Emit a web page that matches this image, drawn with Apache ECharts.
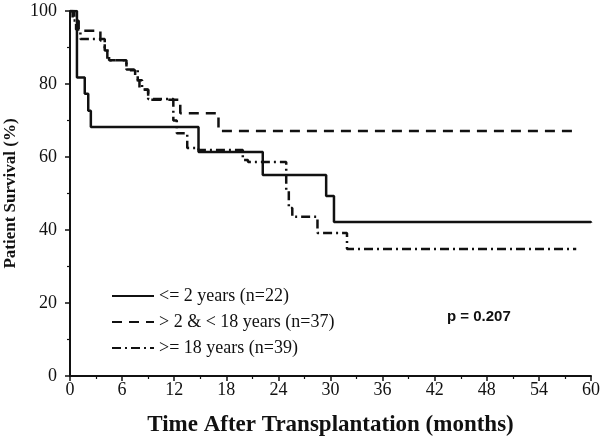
<!DOCTYPE html>
<html>
<head>
<meta charset="utf-8">
<script src="https://cdn.jsdelivr.net/npm/echarts@6/dist/echarts.min.js"></script>
<style>html,body{margin:0;padding:0;background:#fff}#c{width:600px;height:441px}</style>
</head>
<body>
<div id="c"></div>
<script>
// Kaplan-Meier step points [month, survival %]
const g1Times = [0, 0.8, 1.7, 2.1, 2.4, 14.8, 22.2, 29.5, 30.4, 60];
const g1Surv  = [100, 81.8, 77.3, 72.7, 68.2, 61.4, 55.1, 49.3, 42.2, 42.0];
const g2Times = [0, 0.5, 1.0, 3.5, 4.0, 4.5, 6.5, 7.5, 8.0, 9.0, 12.7, 17.1, 58.3];
const g2Surv  = [100, 97.3, 94.6, 91.9, 89.2, 86.5, 83.8, 81.0, 78.4, 75.7, 72.0, 67.1, 67.1];
const g3Times = [0, 0.3, 0.7, 1.2, 4.0, 4.3, 6.5, 7.8, 8.3, 9.0, 11.9, 12.3, 13.5, 14.8, 19.9, 20.5, 24.9, 25.2, 25.6, 28.5, 31.9, 58.3];
const g3Surv  = [100, 97.4, 94.9, 92.3, 89.7, 86.5, 84.0, 81.0, 78.5, 75.9, 70.0, 66.5, 62.5, 61.9, 59.2, 58.6, 51.0, 46.0, 43.6, 39.2, 34.8, 34.8];
const seriesNames = ['<= 2 years (n=22)', '> 2 & < 18 years (n=37)', '>= 18 years (n=39)'];
const xTicks = [0, 6, 12, 18, 24, 30, 36, 42, 48, 54, 60];
const yTicks = [0, 20, 40, 60, 80, 100];
const pText = 'p = 0.207';

const zip = (a, b) => a.map((t, i) => [t, b[i]]);
const serif = '"Liberation Serif", "DejaVu Serif", serif';
const ink = '#111';

const chart = echarts.init(document.getElementById('c'));
chart.setOption({
  animation: false,
  backgroundColor: '#fff',
  grid: { left: 70, right: 9, top: 11, bottom: 65, containLabel: false, outerBoundsMode: 'none' },
  xAxis: {
    type: 'value', min: xTicks[0], max: xTicks[xTicks.length - 1], interval: 6,
    axisLine: { lineStyle: { color: ink, width: 2 } },
    axisTick: { length: 5, lineStyle: { color: ink, width: 1.5 } },
    minorTick: { show: true, splitNumber: 2, length: 3, lineStyle: { color: ink, width: 1.2 } },
    splitLine: { show: false },
    axisLabel: { color: ink, fontFamily: serif, fontSize: 18, margin: 5 },
    name: 'Time After Transplantation (months)', nameLocation: 'middle', nameGap: 38,
    nameTextStyle: { color: ink, fontFamily: serif, fontSize: 23, fontWeight: 'bold' }
  },
  yAxis: {
    type: 'value', min: yTicks[0], max: yTicks[yTicks.length - 1], interval: 20,
    axisLine: { show: true, lineStyle: { color: ink, width: 2 } },
    axisTick: { show: true, length: 5, lineStyle: { color: ink, width: 1.5 } },
    minorTick: { show: true, splitNumber: 2, length: 3, lineStyle: { color: ink, width: 1.2 } },
    splitLine: { show: false },
    axisLabel: { color: ink, fontFamily: serif, fontSize: 18, margin: 13 },
    name: 'Patient Survival (%)', nameLocation: 'middle', nameGap: 50,
    nameTextStyle: { color: ink, fontFamily: serif, fontSize: 17, fontWeight: 'bold' }
  },
  legend: {
    orient: 'vertical', left: 106, top: 282, itemWidth: 42, itemHeight: 12, itemGap: 8,
    textStyle: { color: ink, fontFamily: serif, fontSize: 18 },
    itemStyle: { opacity: 0 },
    data: seriesNames
  },
  graphic: [{
    type: 'text', left: 447, top: 309,
    style: { text: pText, fill: ink, font: 'bold 15px "Liberation Sans", Arial, sans-serif' }
  }],
  series: [
    { name: seriesNames[0], type: 'line', step: 'end', symbol: 'none', data: zip(g1Times, g1Surv),
      lineStyle: { color: ink, width: 2.5, type: 'solid' }, itemStyle: { color: ink } },
    { name: seriesNames[1], type: 'line', step: 'end', symbol: 'none', data: zip(g2Times, g2Surv),
      lineStyle: { color: ink, width: 2.5, type: [10, 7] }, itemStyle: { color: ink } },
    { name: seriesNames[2], type: 'line', step: 'end', symbol: 'none', data: zip(g3Times, g3Surv),
      lineStyle: { color: ink, width: 2.5, type: [9, 4, 2, 4] }, itemStyle: { color: ink } }
  ]
});
</script>
</body>
</html>
